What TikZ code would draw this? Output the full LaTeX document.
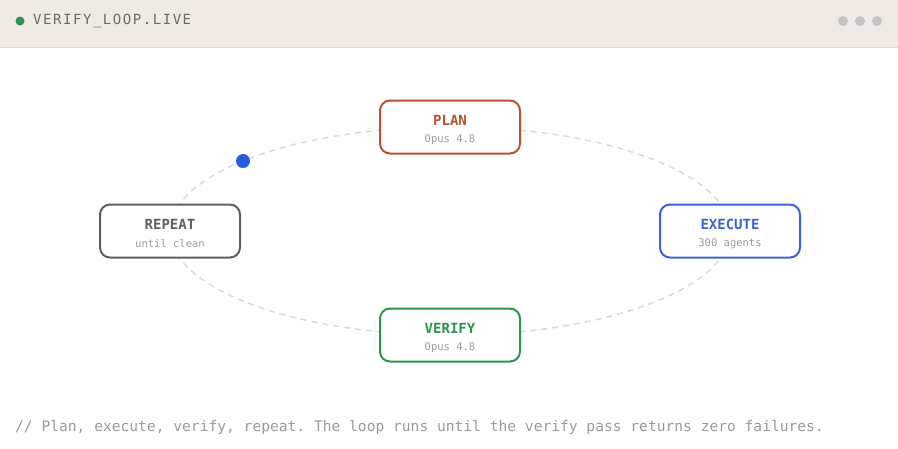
\documentclass[tikz,border=0pt]{standalone}
\usepackage{fontspec}
\usepackage{xcolor}
\setmonofont{DejaVu Sans Mono}
\newfontfamily\headfont[LetterSpace=11]{DejaVu Sans Mono}
\definecolor{band}{RGB}{239,234,228}
\definecolor{bandline}{RGB}{224,218,211}
\definecolor{rust}{RGB}{180,83,47}
\definecolor{slate}{RGB}{95,95,95}
\definecolor{blu}{RGB}{59,98,216}
\definecolor{grn}{RGB}{46,147,80}
\definecolor{dotblu}{RGB}{42,90,224}
\definecolor{muted}{RGB}{154,154,154}
\definecolor{loopgray}{RGB}{218,218,218}

\begin{document}
\begin{tikzpicture}[x=1pt,y=-1pt,
  stage/.style={draw=#1,line width=2pt,rounded corners=10pt,fill=white,
    minimum width=140pt,minimum height=53pt,inner sep=0pt},
  ttl/.style={text=#1,font=\ttfamily\bfseries\fontsize{14}{16}\selectfont,inner sep=0pt},
  sub/.style={text=muted,font=\ttfamily\fontsize{10.5}{12}\selectfont,inner sep=0pt}]
  \useasboundingbox (0,0) rectangle (898,448);
  % header band
  \fill[band] (0,0) rectangle (898,47);
  \draw[bandline,line width=1pt] (0,47)--(898,47);
  \fill[grn] (20,21) circle (4.5);
  \node[anchor=west,inner sep=0pt,text={rgb,255:red,110;green,106;blue,102},
    font=\headfont\fontsize{14}{16}\selectfont] (head) at (33,21) {VERIFY\_LOOP.LIVE};
  \fill[black!23] (843,21) circle (5) (860,21) circle (5) (877,21) circle (5);
  % loop
  \coordinate (c) at (450,231);
  \draw[loopgray,line width=1.5pt,dash pattern=on 6pt off 5pt] (c) ellipse (280 and 104);
  \fill[dotblu] (243,161) circle (7);
  % stages
  \node[stage=rust] (plan) at (450,127) {};
  \node[stage=blu] (exec) at (730,231) {};
  \node[stage=grn] (verify) at (450,335) {};
  \node[stage=slate] (repeat) at (170,231) {};
  \node[ttl=rust] (plan-t) at ([yshift=7]plan.center) {PLAN};
  \node[sub] (plan-s) at ([yshift=-13]plan.center) {Opus 4.8};
  \node[ttl=blu] (exec-t) at ([yshift=7]exec.center) {EXECUTE};
  \node[sub] (exec-s) at ([yshift=-13]exec.center) {300 agents};
  \node[ttl=grn] (verify-t) at ([yshift=7]verify.center) {VERIFY};
  \node[sub] (verify-s) at ([yshift=-13]verify.center) {Opus 4.8};
  \node[ttl=slate] (repeat-t) at ([yshift=7]repeat.center) {REPEAT};
  \node[sub] (repeat-s) at ([yshift=-13]repeat.center) {until clean};
  % footer
  \node[anchor=west,inner sep=0pt,text=muted,font=\ttfamily\fontsize{14.6}{16}\selectfont]
    (note) at (15,427) {// Plan, execute, verify, repeat. The loop runs until the verify pass returns zero failures.};
\end{tikzpicture}
\end{document}
